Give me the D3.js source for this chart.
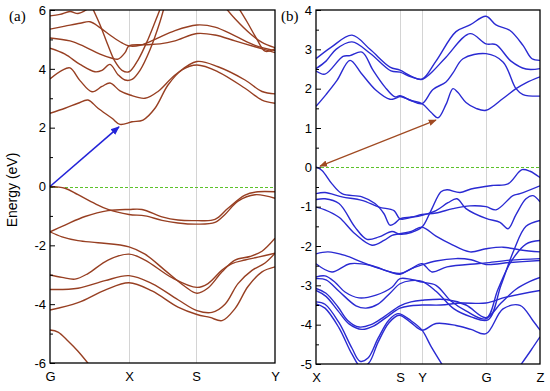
<!DOCTYPE html>
<html>
<head>
<meta charset="utf-8">
<script src="https://cdn.jsdelivr.net/npm/d3@7"></script>
<style>
body { margin: 0; background: #fff; }
text { font-family: "Liberation Sans", Arial, sans-serif; }
</style>
</head>
<body>
<div id="container"></div>
<script>
// ---- panel (a): G-X-S-Y ----
var kLabelsA = ["G", "X", "S", "Y"];
var kTicksA = [0, 0.79, 1.46, 2.25];
var yTicksA = [-6, -4, -2, 0, 2, 4, 6];

// conduction bands (a)
var ca1 = [[0,2.49],[0.15,2.66],[0.28,2.83],[0.38,2.94],[0.48,2.66],[0.62,2.32],[0.7,2.11],[0.82,2.2],[0.93,2.26],[1.05,2.66],[1.18,3.45],[1.32,3.96],[1.47,4.13],[1.68,3.9],[1.95,3.34],[2.12,2.94],[2.25,2.83]];
var ca2 = [[0,3.66],[0.12,3.95],[0.2,4.03],[0.3,3.6],[0.42,3.22],[0.52,3.4],[0.6,3.52],[0.7,3.25],[0.8,3.11],[0.95,3.0],[1.08,3.23],[1.25,3.79],[1.47,4.25],[1.68,4.07],[1.95,3.62],[2.12,3.23],[2.25,3.15]];
var ca3 = [[0,4.7],[0.15,4.5],[0.3,4.15],[0.45,3.9],[0.52,3.95],[0.6,4.15],[0.68,3.8],[0.75,3.62],[0.82,3.64],[0.9,3.95],[1.0,4.65],[1.1,5.6],[1.15,6.2]];
var ca3b = [[0.42,6.1],[0.5,5.5],[0.58,4.8],[0.65,4.25],[0.72,3.95],[0.79,3.9],[0.88,4.3],[0.98,5.0],[1.08,5.85],[1.12,6.2]];
var ca4 = [[0,5.05],[0.2,4.95],[0.35,4.75],[0.5,4.5],[0.62,4.36],[0.68,4.33],[0.75,4.55],[0.79,4.78],[0.95,4.82],[1.1,4.85],[1.25,4.95],[1.47,5.2],[1.65,5.15],[1.85,4.95],[2.05,4.75],[2.25,4.55]];
var ca5 = [[0,5.35],[0.15,5.45],[0.3,5.55],[0.4,5.6],[0.5,5.4],[0.62,5.1],[0.72,4.88],[0.79,4.78],[0.9,4.8],[1.05,5.0],[1.25,5.3],[1.47,5.49],[1.65,5.42],[1.85,5.12],[2.05,4.8],[2.25,4.62]];
var ca6 = [[0,5.8],[0.1,5.85],[0.2,5.95],[0.28,5.88],[0.36,6.0],[0.42,6.2]];
var ca7 = [[1.75,6.1],[1.85,5.7],[2.0,5.2],[2.12,4.9],[2.25,4.72]];
var ca8 = [[1.88,6.1],[1.97,5.6],[2.07,5.0],[2.15,4.6],[2.25,4.68]];

// valence bands (a)
var va1 = [[0,0],[0.15,-0.06],[0.28,-0.28],[0.45,-0.58],[0.58,-0.78],[0.79,-0.95],[0.95,-1.0],[1.12,-1.15],[1.28,-1.24],[1.47,-1.28],[1.65,-1.22],[1.75,-0.95],[1.88,-0.5],[2.05,-0.28],[2.25,-0.4]];
var va2 = [[0,-1.54],[0.15,-1.31],[0.35,-1.02],[0.58,-0.82],[0.79,-0.78],[0.92,-0.78],[1.12,-1.03],[1.28,-1.14],[1.47,-1.16],[1.65,-1.12],[1.78,-0.74],[1.95,-0.29],[2.08,-0.18],[2.25,-0.18]];
var va3 = [[0,-1.54],[0.12,-1.71],[0.28,-1.84],[0.48,-1.91],[0.79,-2.05],[0.95,-2.3],[1.15,-2.85],[1.35,-3.4],[1.47,-3.63],[1.58,-3.45],[1.72,-2.9],[1.85,-2.5],[2.0,-2.38],[2.12,-2.2],[2.25,-1.76]];
var va4 = [[0,-3.01],[0.12,-3.09],[0.25,-3.15],[0.38,-2.96],[0.58,-2.5],[0.79,-2.3],[0.95,-2.5],[1.22,-3.1],[1.47,-3.43],[1.58,-3.3],[1.72,-2.84],[1.82,-2.62],[1.95,-2.5],[2.08,-2.4],[2.25,-2.27]];
var va5 = [[0,-3.5],[0.28,-3.46],[0.55,-3.2],[0.79,-3.03],[1.02,-3.3],[1.28,-3.85],[1.47,-4.22],[1.62,-4.28],[1.75,-4.0],[1.88,-3.3],[2.02,-2.85],[2.15,-2.6],[2.25,-2.27]];
var va6 = [[0,-4.2],[0.28,-3.95],[0.55,-3.52],[0.79,-3.27],[1.02,-3.55],[1.28,-4.1],[1.47,-4.35],[1.6,-4.45],[1.72,-4.56],[1.85,-4.15],[1.98,-3.4],[2.12,-2.9],[2.25,-2.73]];
var va7 = [[0,-4.88],[0.08,-4.95],[0.18,-5.25],[0.28,-5.6],[0.39,-6.05]];

var bandsA = [ca1, ca2, ca3, ca3b, ca4, ca5, ca6, ca7, ca8, va1, va2, va3, va4, va5, va6, va7];
var arrowA = [[0, 0], [0.69, 2.03]];

// ---- panel (b): X-S-Y-G-Z ----
var kLabelsB = ["X", "S", "Y", "G", "Z"];
var kTicksB = [0, 0.84, 1.06, 1.70, 2.24];
var yTicksB = [-5, -4, -3, -2, -1, 0, 1, 2, 3, 4];

// conduction bands (b)
var cb1 = [[0,1.55],[0.1,1.85],[0.21,2.21],[0.34,2.72],[0.45,2.4],[0.6,1.96],[0.74,1.73],[0.8,1.76],[0.84,1.8],[0.95,1.7],[1.06,1.62],[1.15,1.4],[1.22,1.26],[1.3,1.6],[1.37,2.0],[1.42,1.9],[1.5,1.65],[1.6,1.5],[1.7,1.45],[1.87,1.75],[2.0,2.0],[2.1,2.15],[2.24,2.3]];
var cb2 = [[0,2.45],[0.09,2.37],[0.27,2.82],[0.34,2.84],[0.46,2.93],[0.57,2.47],[0.69,2.04],[0.79,1.79],[0.84,1.82],[0.95,1.7],[1.06,1.62],[1.17,1.98],[1.3,2.17],[1.37,2.4],[1.47,2.76],[1.7,2.89],[1.87,2.68],[2.0,2.0],[2.07,1.85],[2.24,1.81]];
var cb3 = [[0,2.51],[0.1,2.7],[0.2,3.0],[0.36,3.19],[0.54,2.9],[0.75,2.45],[0.84,2.42],[0.95,2.3],[1.06,2.24],[1.15,2.4],[1.3,2.8],[1.54,3.4],[1.7,3.14],[1.8,3.12],[1.95,2.7],[2.1,2.5],[2.24,2.51]];
var cb4 = [[0,2.76],[0.15,3.05],[0.36,3.36],[0.54,3.0],[0.74,2.55],[0.84,2.47],[0.95,2.32],[1.06,2.24],[1.2,2.7],[1.4,3.45],[1.54,3.62],[1.7,3.84],[1.8,3.62],[1.94,3.48],[2.07,3.1],[2.16,2.76],[2.24,2.72]];

// valence bands (b)
var vb1 = [[0,0.01],[0.06,-0.08],[0.16,-0.42],[0.26,-0.67],[0.46,-0.75],[0.59,-0.92],[0.68,-1.18],[0.74,-1.47],[0.79,-1.42],[0.84,-1.31],[0.96,-1.26],[1.06,-1.2],[1.2,-1.16],[1.37,-1.05],[1.54,-0.98],[1.7,-1.0],[1.8,-1.08],[1.97,-0.72],[2.04,-0.67],[2.24,-0.47]];
var vb2 = [[0,-0.67],[0.09,-0.64],[0.26,-0.75],[0.46,-0.84],[0.63,-1.01],[0.78,-1.1],[0.84,-1.31],[0.96,-1.27],[1.06,-1.22],[1.2,-1.1],[1.32,-0.9],[1.41,-0.8],[1.5,-1.05],[1.7,-1.3],[1.84,-1.4],[1.92,-1.56],[2.0,-1.2],[2.1,-0.8],[2.17,-0.72],[2.24,-0.88]];
var vb3 = [[0,-0.82],[0.09,-0.8],[0.23,-0.92],[0.39,-1.52],[0.51,-1.83],[0.63,-1.77],[0.76,-1.63],[0.84,-1.7],[0.96,-1.65],[1.06,-1.52],[1.15,-1.1],[1.25,-0.62],[1.31,-0.57],[1.44,-0.64],[1.55,-0.55],[1.77,-0.46],[1.92,-0.42],[2.06,-0.06],[2.14,-0.1],[2.24,-0.26]];
var vb4 = [[0,-1.01],[0.09,-1.08],[0.23,-1.27],[0.39,-1.69],[0.56,-1.98],[0.68,-1.86],[0.76,-1.73],[0.84,-1.69],[0.96,-1.62],[1.06,-1.52],[1.2,-1.75],[1.34,-1.94],[1.54,-2.15],[1.7,-2.07],[1.87,-2.03],[2.05,-2.1],[2.24,-2.15]];
var vb5 = [[0,-2.2],[0.12,-2.15],[0.29,-2.24],[0.46,-2.41],[0.63,-2.57],[0.84,-2.7],[0.95,-2.58],[1.06,-2.45],[1.16,-2.66],[1.31,-2.53],[1.61,-2.45],[1.7,-2.43],[1.94,-2.36],[2.24,-2.32]];
var vb6 = [[0,-2.45],[0.16,-2.66],[0.34,-2.45],[0.54,-2.49],[0.74,-2.66],[0.84,-2.72],[0.95,-2.58],[1.06,-2.48],[1.2,-2.38],[1.4,-2.32],[1.55,-2.35],[1.7,-2.47],[1.94,-2.42],[2.24,-2.37]];
var vb7 = [[0,-2.79],[0.09,-2.76],[0.19,-2.92],[0.29,-3.17],[0.43,-3.32],[0.6,-3.25],[0.76,-3.05],[0.84,-2.83],[0.95,-2.85],[1.06,-2.92],[1.2,-3.0],[1.35,-3.4],[1.5,-3.65],[1.7,-3.85],[1.82,-3.1],[1.95,-2.4],[2.1,-1.95],[2.24,-1.86]];
var vb8 = [[0,-2.83],[0.1,-2.86],[0.23,-3.15],[0.4,-3.52],[0.5,-3.58],[0.62,-3.48],[0.74,-3.2],[0.84,-2.96],[0.95,-2.88],[1.06,-2.9],[1.2,-3.15],[1.38,-3.6],[1.55,-3.8],[1.72,-3.88],[1.85,-3.0],[1.98,-2.1],[2.1,-1.5],[2.24,-1.35]];
var vb9 = [[0,-3.08],[0.1,-3.2],[0.22,-3.55],[0.32,-3.9],[0.43,-4.06],[0.55,-4.0],[0.68,-3.8],[0.84,-3.52],[0.95,-3.42],[1.06,-3.38],[1.3,-3.36],[1.5,-3.5],[1.7,-3.82],[1.85,-3.45],[2.0,-3.1],[2.14,-2.9],[2.24,-2.8]];
var vb10 = [[0,-3.13],[0.1,-3.28],[0.22,-3.65],[0.33,-3.98],[0.46,-4.12],[0.58,-4.03],[0.7,-3.82],[0.84,-3.58],[0.95,-3.52],[1.06,-3.5],[1.25,-3.5],[1.45,-3.45],[1.7,-3.45],[1.9,-3.3],[2.24,-3.13]];
var vb11 = [[0,-3.42],[0.09,-3.48],[0.23,-3.95],[0.36,-4.6],[0.44,-4.93],[0.52,-4.85],[0.62,-4.35],[0.73,-3.88],[0.82,-3.72],[0.95,-3.9],[1.06,-4.14],[1.15,-4.55],[1.27,-5.05]];
var vb12 = [[0,-3.47],[0.09,-3.58],[0.23,-4.08],[0.36,-4.75],[0.45,-5.08],[0.53,-4.97],[0.62,-4.45],[0.73,-3.95],[0.83,-3.76],[0.95,-3.95],[1.06,-4.14],[1.2,-3.97],[1.4,-4.02],[1.55,-4.12],[1.7,-4.23],[1.87,-3.6],[2.04,-3.51],[2.17,-3.9],[2.24,-4.14]];
var vb13 = [[2.04,-5.05],[2.15,-4.65],[2.24,-4.31]];

var bandsB = [cb1, cb2, cb3, cb4, vb1, vb2, vb3, vb4, vb5, vb6, vb7, vb8, vb9, vb10, vb11, vb12, vb13];
var arrowB = [[0.04, 0.03], [1.2, 1.2]];

// ---- drawing ----
var W = 550, H = 391;
var svg = d3.select("#container").append("svg")
	.attr("width", W)
	.attr("height", H);

var defs = svg.append("defs");

function marker( id, color, size )
{
	defs.append("marker")
		.attr("id", id)
		.attr("viewBox", "0 0 10 10")
		.attr("refX", 9)
		.attr("refY", 5)
		.attr("markerUnits", "userSpaceOnUse")
		.attr("markerWidth", size)
		.attr("markerHeight", size)
		.attr("orient", "auto-start-reverse")
		.append("path")
		.attr("d", "M0,1 L10,5 L0,9 z")
		.attr("fill", color);
}
marker("headA", "#2323d8", 9);
marker("headB", "#a04a22", 8);

function panel( opt )
{
	var x = d3.scaleLinear().domain(opt.kdom).range([opt.left, opt.right]);
	var y = d3.scaleLinear().domain(opt.edom).range([opt.bottom, opt.top]);
	var g = svg.append("g");

	g.append("clipPath").attr("id", opt.id + "-clip")
		.append("rect")
		.attr("x", opt.left).attr("y", opt.top)
		.attr("width", opt.right - opt.left).attr("height", opt.bottom - opt.top);

	// grid lines at high-symmetry points
	g.selectAll(".grid")
		.data(opt.kticks.slice(1, -1))
		.enter().append("line")
		.attr("x1", d => Math.round(x(d)) + 0.5).attr("x2", d => Math.round(x(d)) + 0.5)
		.attr("y1", opt.top).attr("y2", opt.bottom)
		.attr("stroke", "#d4d4d4")
		.attr("stroke-width", 1);

	// fermi level
	var y0 = Math.round(y(0)) + 0.5;
	g.append("line")
		.attr("x1", opt.left).attr("x2", opt.right)
		.attr("y1", y0).attr("y2", y0)
		.attr("stroke", "#5cc22a")
		.attr("stroke-width", 1.2)
		.attr("stroke-dasharray", "3,2");

	var line = d3.line()
		.x(d => x(d[0]))
		.y(d => y(d[1]))
		.curve(d3.curveCatmullRom.alpha(0.5));

	g.append("g")
		.attr("clip-path", "url(#" + opt.id + "-clip)")
		.selectAll("path")
		.data(opt.bands)
		.enter().append("path")
		.attr("d", line)
		.attr("fill", "none")
		.attr("stroke", opt.color)
		.attr("stroke-width", 1.4);

	// arrow
	g.append("line")
		.attr("x1", x(opt.arrow[0][0])).attr("y1", y(opt.arrow[0][1]))
		.attr("x2", x(opt.arrow[1][0])).attr("y2", y(opt.arrow[1][1]))
		.attr("stroke", opt.arrowColor)
		.attr("stroke-width", opt.arrowWidth)
		.attr("marker-end", "url(#" + opt.marker + ")")
		.attr("marker-start", opt.double ? "url(#" + opt.marker + ")" : null);

	// y axis, major and minor ticks inside
	var yAxis = d3.axisLeft(y)
		.tickValues(opt.yticks)
		.tickSize(-5)
		.tickPadding(4)
		.tickFormat(d3.format("d"));
	var yMinor = d3.axisLeft(y)
		.tickValues(opt.yminor)
		.tickSize(-3)
		.tickFormat("");

	var gy = g.append("g").attr("transform", "translate(" + opt.left + ",0)").call(yAxis);
	g.append("g").attr("transform", "translate(" + opt.left + ",0)").call(yMinor)
		.select(".domain").remove();
	gy.select(".domain").remove();
	gy.selectAll("text")
		.style("font-size", "13px")
		.style("font-family", "'Liberation Sans', Arial, sans-serif")
		.text(d => d < 0 ? "-" + Math.abs(d) : d);

	// k-path labels
	var xAxis = d3.axisBottom(x)
		.tickValues(opt.kticks)
		.tickSize(0)
		.tickPadding(9)
		.tickFormat((d, i) => opt.klabels[i]);
	var gx = g.append("g").attr("transform", "translate(0," + opt.bottom + ")").call(xAxis);
	gx.select(".domain").remove();
	gx.selectAll("text")
		.style("font-size", "13px")
		.style("font-family", "'Liberation Sans', Arial, sans-serif");

	// frame
	g.append("rect")
		.attr("x", opt.left).attr("y", opt.top)
		.attr("width", opt.right - opt.left).attr("height", opt.bottom - opt.top)
		.attr("fill", "none")
		.attr("stroke", "#000")
		.attr("stroke-width", 1.3);

	g.append("text")
		.attr("x", opt.labelX).attr("y", 21)
		.style("font-family", "'Liberation Serif', 'Times New Roman', serif")
		.style("font-size", "15px")
		.text(opt.label);
}

panel({
	id: "a", left: 50, right: 275, top: 10, bottom: 363,
	kdom: [0, 2.25], edom: [-6, 6],
	kticks: kTicksA, klabels: kLabelsA,
	yticks: yTicksA, yminor: [-5, -3, -1, 1, 3, 5],
	bands: bandsA, color: "#973f22",
	arrow: arrowA, arrowColor: "#2323d8", arrowWidth: 1.6, marker: "headA", double: false,
	label: "(a)", labelX: 9
});

panel({
	id: "b", left: 316, right: 540, top: 10, bottom: 364,
	kdom: [0, 2.24], edom: [-5, 4],
	kticks: kTicksB, klabels: kLabelsB,
	yticks: yTicksB, yminor: d3.range(-4.5, 4, 1),
	bands: bandsB, color: "#2a2ad2",
	arrow: arrowB, arrowColor: "#a04a22", arrowWidth: 1.2, marker: "headB", double: true,
	label: "(b)", labelX: 281
});

svg.append("text")
	.attr("transform", "translate(17,190) rotate(-90)")
	.attr("text-anchor", "middle")
	.style("font-size", "14px")
	.text("Energy (eV)");
</script>
</body>
</html>
